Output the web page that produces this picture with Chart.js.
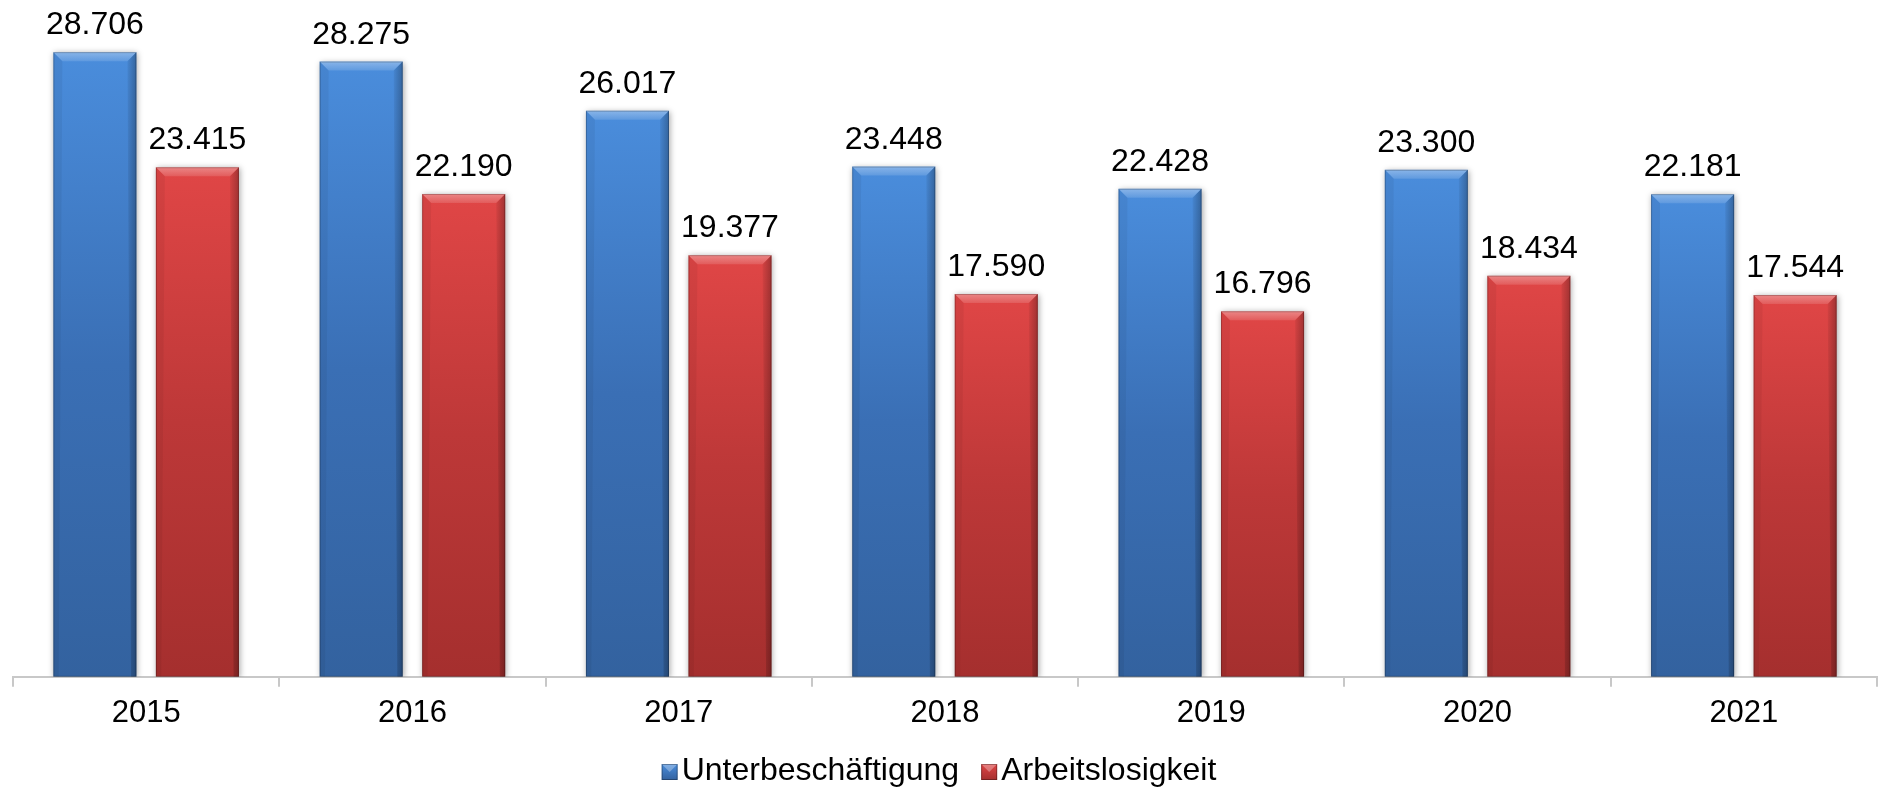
<!DOCTYPE html>
<html>
<head>
<meta charset="utf-8">
<script src="https://cdn.jsdelivr.net/npm/chart.js@4.4.1/dist/chart.umd.min.js"></script>
<style>
    html, body { margin: 0; padding: 0; background: #fff; }
    #wrap { width: 1881px; height: 790px; }
</style>
</head>
<body>
<div id="wrap"><canvas id="barChart"></canvas></div>
<script>
// Data
const years = ['2015', '2016', '2017', '2018', '2019', '2020', '2021'];
const unterbeschaeftigung = [28706, 28275, 26017, 23448, 22428, 23300, 22181];
const arbeitslosigkeit = [23415, 22190, 19377, 17590, 16796, 18434, 17544];
const seriesNames = ['Unterbeschäftigung', 'Arbeitslosigkeit'];

const FONT = '"Liberation Sans", Arial, sans-serif';
const blueStops = ['#4a8ddc', '#3a6fb5', '#33629f'];
const redStops = ['#e04646', '#bd3838', '#a52f2e'];

function formatDE(v) {
    const th = Math.floor(v / 1000);
    const rest = String(v % 1000).padStart(3, '0');
    return th + '.' + rest;
}

// gradient per bar, from its top to the baseline
function barGradient(stops) {
    return function (context) {
        const chart = context.chart;
        if (!chart.chartArea || context.parsed === undefined) return stops[1];
        const yScale = chart.scales.y;
        const top = yScale.getPixelForValue(context.parsed.y);
        const base = yScale.getPixelForValue(0);
        const g = chart.ctx.createLinearGradient(0, top, 0, base);
        g.addColorStop(0, stops[0]);
        g.addColorStop(0.5, stops[1]);
        g.addColorStop(1, stops[2]);
        return g;
    };
}

// soft shadow behind bars
const shadowPlugin = {
    id: 'barShadow',
    beforeDatasetDraw(chart) {
        const ctx = chart.ctx;
        ctx.save();
        ctx.shadowColor = 'rgba(0,0,0,0.35)';
        ctx.shadowBlur = 6;
        ctx.shadowOffsetX = 1;
        ctx.shadowOffsetY = 1;
    },
    afterDatasetDraw(chart) {
        chart.ctx.restore();
    }
};

// bevel look + value labels
const bevelPlugin = {
    id: 'bevel',
    afterDatasetsDraw(chart) {
        const ctx = chart.ctx;
        chart.data.datasets.forEach((ds, di) => {
            const meta = chart.getDatasetMeta(di);
            meta.data.forEach((bar, i) => {
                const l = bar.x - bar.width / 2;
                const r = bar.x + bar.width / 2;
                const t = bar.y;
                const b = bar.base;
                const bv = 9;
                ctx.save();
                // top bevel
                const tg = ctx.createLinearGradient(0, t, 0, t + bv);
                tg.addColorStop(0, 'rgba(255,255,255,0.35)');
                tg.addColorStop(1, 'rgba(255,255,255,0.12)');
                ctx.fillStyle = tg;
                ctx.beginPath();
                ctx.moveTo(l, t);
                ctx.lineTo(r, t);
                ctx.lineTo(r - bv, t + bv);
                ctx.lineTo(l + bv, t + bv);
                ctx.closePath();
                ctx.fill();
                // left edge
                ctx.fillStyle = 'rgba(0,0,0,0.05)';
                ctx.beginPath();
                ctx.moveTo(l, t);
                ctx.lineTo(l + bv, t + bv);
                ctx.lineTo(l + bv * 0.6, b);
                ctx.lineTo(l, b);
                ctx.closePath();
                ctx.fill();
                // right edge
                const rg = ctx.createLinearGradient(r - bv, 0, r, 0);
                rg.addColorStop(0, 'rgba(0,0,0,0.05)');
                rg.addColorStop(1, 'rgba(0,0,0,0.28)');
                ctx.fillStyle = rg;
                ctx.beginPath();
                ctx.moveTo(r, t);
                ctx.lineTo(r - bv, t + bv);
                ctx.lineTo(r - bv * 0.6, b);
                ctx.lineTo(r, b);
                ctx.closePath();
                ctx.fill();
                // outline
                ctx.strokeStyle = 'rgba(0,0,0,0.22)';
                ctx.lineWidth = 1;
                ctx.strokeRect(l + 0.5, t + 0.5, r - l - 1, b - t - 1);
                ctx.restore();

                // value label
                ctx.save();
                ctx.fillStyle = '#000';
                ctx.font = '32px ' + FONT;
                ctx.textAlign = 'center';
                ctx.textBaseline = 'alphabetic';
                ctx.fillText(formatDE(ds.data[i]), bar.x, t - 18);
                ctx.restore();
            });
        });
    }
};

// legend centred below the axis labels
const legendPlugin = {
    id: 'customLegend',
    afterDraw(chart) {
        const ctx = chart.ctx;
        const box = 16;
        const textGap = 4;
        const itemGap = 22;
        const baseline = 780;
        ctx.save();
        ctx.font = '32px ' + FONT;
        const widths = chart.data.datasets.map(ds => box + textGap + ctx.measureText(ds.label).width);
        const total = widths.reduce((a, w) => a + w, 0) + itemGap * (widths.length - 1);
        let x = (chart.chartArea.left + chart.chartArea.right) / 2 - total / 2 - 6;
        chart.data.datasets.forEach((ds, di) => {
            const stops = di === 0 ? blueStops : redStops;
            const by = baseline - box;
            const bg = ctx.createLinearGradient(0, by, 0, baseline);
            bg.addColorStop(0, stops[0]);
            bg.addColorStop(1, stops[2]);
            ctx.fillStyle = bg;
            ctx.fillRect(x, by, box, box);
            ctx.fillStyle = 'rgba(255,255,255,0.3)';
            ctx.beginPath();
            ctx.moveTo(x, by);
            ctx.lineTo(x + box, by);
            ctx.lineTo(x + box / 2, by + box / 2);
            ctx.closePath();
            ctx.fill();
            ctx.strokeStyle = 'rgba(0,0,0,0.3)';
            ctx.lineWidth = 1;
            ctx.strokeRect(x + 0.5, by + 0.5, box - 1, box - 1);

            ctx.fillStyle = '#000';
            ctx.textBaseline = 'alphabetic';
            ctx.fillText(ds.label, x + box + textGap, baseline);
            x += widths[di] + itemGap;
        });
        ctx.restore();
    }
};

new Chart(document.getElementById('barChart'), {
    type: 'bar',
    data: {
        labels: years,
        datasets: [
            {
                label: seriesNames[0],
                data: unterbeschaeftigung,
                backgroundColor: barGradient(blueStops),
                borderWidth: 0
            },
            {
                label: seriesNames[1],
                data: arbeitslosigkeit,
                backgroundColor: barGradient(redStops),
                borderWidth: 0
            }
        ]
    },
    options: {
        responsive: true,
        maintainAspectRatio: false,
        animation: false,
        datasets: {
            bar: {
                categoryPercentage: 0.77,
                barPercentage: 0.81
            }
        },
        layout: {
            padding: { left: 13, right: 4, top: 24, bottom: 50 }
        },
        plugins: {
            legend: { display: false },
            tooltip: { enabled: false }
        },
        scales: {
            x: {
                grid: {
                    offset: true,
                    drawOnChartArea: false,
                    drawTicks: true,
                    tickLength: 10,
                    color: '#c8c8c8',
                    lineWidth: 2
                },
                border: {
                    display: true,
                    color: '#c8c8c8',
                    width: 2
                },
                ticks: {
                    color: '#000',
                    padding: 8,
                    font: { family: FONT, size: 31 }
                }
            },
            y: {
                display: false,
                min: 0,
                max: 30000
            }
        }
    },
    plugins: [shadowPlugin, bevelPlugin, legendPlugin]
});
</script>
</body>
</html>
